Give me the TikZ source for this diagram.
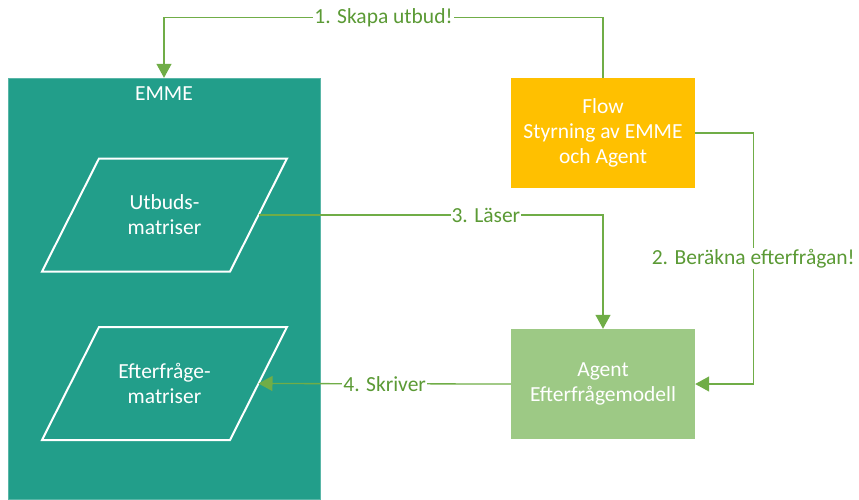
\documentclass[tikz,border=0pt]{standalone}
\usepackage{fontspec}
\setmainfont{Carlito}
\usetikzlibrary{calc, arrows.meta, positioning}
\definecolor{emmeteal}{HTML}{229E8A}
\definecolor{flowgold}{HTML}{FFC000}
\definecolor{agentgreen}{HTML}{9DC985}
\definecolor{linkgreen}{HTML}{70AD47}
\definecolor{labelgreen}{HTML}{5B9A35}

\begin{document}
\begin{tikzpicture}[x=1pt, y=-1pt,
        font=\fontsize{21.5}{25}\selectfont,
        box/.style={rectangle, minimum width=184pt, minimum height=110pt, text=white, align=center, inner sep=0pt},
        datatext/.style={text=white, align=center, inner sep=0pt},
        dataoutline/.style={draw=white, line width=2pt, line join=miter},
        link/.style={draw=linkgreen, line width=1.3pt, -{Triangle[width=15pt, length=14pt]}},
        linklabel/.style={fill=white, text=labelgreen, inner sep=1pt}]
        \useasboundingbox (0,0) rectangle (859,499);

        % Nodes
        \node (emme) [rectangle, fill=emmeteal, draw=emmeteal!75!white, minimum width=312pt, minimum height=421pt] at (164,288.5) {};
        \node (emmetitle) [text=white] at (164,94) {EMME};
        \node (utbud) [datatext] at (164.5,215) {Utbuds-\\matriser};
        \node (efterfr) [datatext] at (164.5,383.5) {Efterfråge-\\matriser};
        \node (flow) [box, fill=flowgold] at (603,133) {Flow\\Styrning av EMME\\och Agent};
        \node (agent) [box, fill=agentgreen] at (603,384) {Agent\\Efterfrågemodell};

        % Parallelograms round the matrices
        \draw[dataoutline] ($(utbud)+(-65.5,-56.5)$) -- ++(188,0) -- ++(-57,113) -- ++(-188,0) -- cycle;
        \draw[dataoutline] ($(efterfr)+(-65.5,-56.5)$) -- ++(188,0) -- ++(-57,113) -- ++(-188,0) -- cycle;
        \coordinate (utbud-e) at ($(utbud)+(94,0)$);
        \coordinate (efterfr-e) at ($(efterfr)+(94,0)$);

        % Edges
        \draw[link] (flow.north) -- ++(0,-60) -| node (skapa) [linklabel, pos=0.25] {1. Skapa utbud!} (emme.north);
        \draw[link] (flow.east) -- ++(58,0) |- node (berakna) [linklabel, pos=0.25] {2. Beräkna efterfrågan!} (agent.east);
        \draw[link] (utbud-e) -| node (laser) [linklabel, pos=0.33] {3. Läser} (agent.north);
        \draw[link] (agent.west) -- node (skriver) [linklabel] {4. Skriver} (efterfr-e);
    \end{tikzpicture}
\end{document}
